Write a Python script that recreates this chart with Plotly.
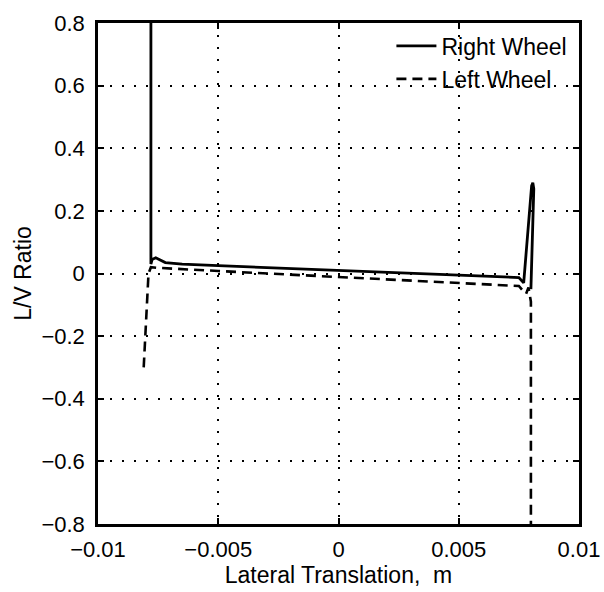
import plotly.graph_objects as go

# Lateral translation (m) and L/V ratio for each wheel
right_x = [-0.0078, -0.0078, -0.00775, -0.0076, -0.0072, -0.0065, -0.005, 0.0, 0.005,
           0.0075, 0.0077, 0.0079, 0.00803, 0.00808, 0.00812, 0.00800]
right_y = [1.0, 0.03, 0.045, 0.05, 0.035, 0.03, 0.025, 0.009, -0.005,
           -0.013, -0.03, 0.15, 0.28, 0.29, 0.27, -0.05]

left_x = [-0.0081, -0.0080, -0.0079, -0.0078, -0.0075, -0.005, 0.0, 0.005,
          0.0075, 0.0077, 0.0078, 0.0079, 0.0080, 0.0080]
left_y = [-0.30, -0.15, 0.0, 0.02, 0.018, 0.008, -0.012, -0.03,
          -0.04, -0.058, -0.065, -0.045, -0.09, -1.0]

x_ticks = [-0.01, -0.005, 0, 0.005, 0.01]
x_labels = ["\u22120.01", "\u22120.005", "0", "0.005", "0.01"]
y_ticks = [-0.8, -0.6, -0.4, -0.2, 0, 0.2, 0.4, 0.6, 0.8]
y_labels = ["\u22120.8", "\u22120.6", "\u22120.4", "\u22120.2", "0", "0.2", "0.4", "0.6", "0.8"]

FONT = "Liberation Sans, Arial, Helvetica, sans-serif"
TICK_SIZE = 22
TEXT_SIZE = 23

fig = go.Figure()
fig.add_trace(go.Scatter(
    x=right_x, y=right_y, mode="lines", name="Right Wheel",
    legendgroup="r", line=dict(color="black", width=2.8),
))
fig.add_trace(go.Scatter(
    x=left_x, y=left_y, mode="lines", name="Left Wheel",
    legendgroup="l", line=dict(color="black", width=2.6, dash="10px,6px"),
))

axis_common = dict(
    showline=True, linecolor="black", linewidth=2.5, mirror="ticks",
    ticks="inside", ticklen=6, tickwidth=2, tickcolor="black",
    showgrid=True, gridcolor="black", gridwidth=2, griddash="2px,10px",
    zeroline=False, ticklabeloverflow="allow", automargin=False,
    tickfont=dict(family=FONT, size=TICK_SIZE, color="black"),
)

fig.update_xaxes(
    range=[-0.01, 0.01], tickvals=x_ticks, ticktext=x_labels,
    ticklabelstandoff=4,
    title=dict(text="Lateral Translation,  m",
               font=dict(family=FONT, size=TEXT_SIZE, color="black"), standoff=2),
    **axis_common,
)
fig.update_yaxes(
    range=[-0.8, 0.8], tickvals=y_ticks, ticktext=y_labels,
    ticklabelstandoff=6,
    title=dict(text="L/V Ratio",
               font=dict(family=FONT, size=TEXT_SIZE, color="black"), standoff=4),
    **axis_common,
)

fig.update_layout(
    width=604, height=592,
    margin=dict(l=98, r=25, t=23, b=68),
    paper_bgcolor="white", plot_bgcolor="white",
    font=dict(family=FONT, size=TEXT_SIZE, color="black"),
    legend=dict(
        x=0.61, y=0.997, xanchor="left", yanchor="top",
        bgcolor="rgba(0,0,0,0)", borderwidth=0,
        font=dict(family=FONT, size=TEXT_SIZE, color="black"),
        itemwidth=40, traceorder="grouped", tracegroupgap=0,
    ),
    showlegend=True,
)

fig.write_html("out.html")
